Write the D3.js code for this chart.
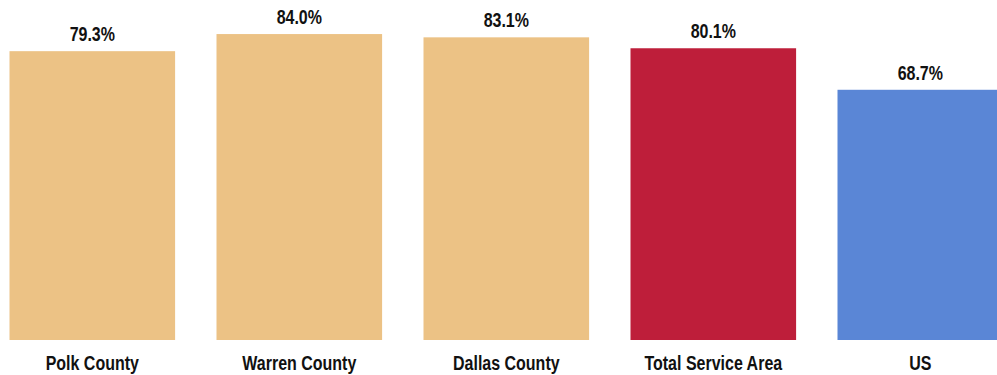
<!DOCTYPE html>
<html>
<head>
<meta charset="utf-8">
<script src="https://cdn.jsdelivr.net/npm/d3@7"></script>
<style>
  html, body { margin: 0; padding: 0; background: #fff; overflow: hidden; }
  svg { display: block; }
  text { font-family: "Liberation Sans", Arial, sans-serif; font-weight: bold; fill: #111; }
</style>
</head>
<body>
<svg id="chart" width="997" height="375"></svg>
<script>
const categories = ["Polk County", "Warren County", "Dallas County", "Total Service Area", "US"];
const values = [79.3, 84.0, 83.1, 80.1, 68.7];
const colors = ["#ECC285", "#ECC285", "#ECC285", "#BE1E3A", "#5A86D6"];

const svg = d3.select("#chart");
const baseY = 340;
const narrow = 0.82;

const x = d3.scaleBand()
  .domain(categories)
  .range([-11.2, 1023.8])
  .paddingInner(0.2)
  .paddingOuter(0.1);

const y = d3.scaleLinear()
  .domain([0, 93.35])
  .range([baseY, 0]);

const data = categories.map((c, i) => ({ c, v: values[i], col: colors[i] }));

svg.selectAll("rect.bar")
  .data(data)
  .join("rect")
  .attr("class", "bar")
  .attr("x", d => x(d.c))
  .attr("y", d => y(d.v))
  .attr("width", x.bandwidth())
  .attr("height", d => y(0) - y(d.v))
  .attr("fill", d => d.col);

svg.selectAll("text.val")
  .data(data)
  .join("text")
  .attr("class", "val")
  .attr("transform", d => `translate(${x(d.c) + x.bandwidth() / 2},${y(d.v) - 10}) scale(${narrow},1)`)
  .attr("text-anchor", "middle")
  .attr("font-size", 19.5)
  .text(d => d.v.toFixed(1) + "%");

const xAxis = d3.axisBottom(x).tickSize(0).tickPadding(0);
const g = svg.append("g").attr("transform", `translate(0,${baseY})`).call(xAxis);
g.select(".domain").remove();
g.selectAll(".tick text")
  .attr("font-size", 19.5)
  .attr("dy", null)
  .attr("y", null)
  .attr("transform", `translate(0,29.5) scale(${narrow},1)`)
  .style("font-family", '"Liberation Sans", Arial, sans-serif')
  .style("font-weight", "bold")
  .attr("fill", "#111");
</script>
</body>
</html>
